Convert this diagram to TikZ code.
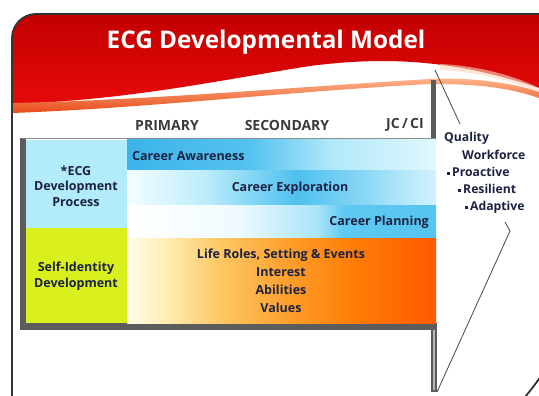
\documentclass[tikz,border=0pt]{standalone}
\usepackage{fontspec}
\setmainfont{Open Sans}
\definecolor{redTop}{HTML}{C20000}
\definecolor{redBot}{HTML}{E60A0A}
\definecolor{oranA}{HTML}{FFB890}
\definecolor{oranB}{HTML}{E84A18}
\definecolor{frameC}{HTML}{333333}
\definecolor{shadowC}{HTML}{5C5C5C}
\definecolor{cyanCell}{HTML}{B2EBFA}
\definecolor{limeCell}{HTML}{DAF01E}
\definecolor{txt}{HTML}{1C2242}
\definecolor{hdr}{HTML}{3A3A3A}
\definecolor{aA}{HTML}{3CB4EA}\definecolor{aB}{HTML}{55C2EF}\definecolor{aC}{HTML}{B0E8FA}\definecolor{aD}{HTML}{E2F8FD}
\definecolor{eA}{HTML}{F4FDFF}\definecolor{eB}{HTML}{BDEDFB}\definecolor{eC}{HTML}{4EC0EF}\definecolor{eD}{HTML}{86D5F5}\definecolor{eE}{HTML}{D3F3FD}
\definecolor{pA}{HTML}{FFFFFF}\definecolor{pB}{HTML}{F0FBFF}\definecolor{pC}{HTML}{A8E4F8}\definecolor{pD}{HTML}{5FC9F2}\definecolor{pE}{HTML}{55C4F0}
\definecolor{oA}{HTML}{FFFDE8}\definecolor{oB}{HTML}{FFEFB5}\definecolor{oC}{HTML}{FDC865}\definecolor{oD}{HTML}{FD9A25}\definecolor{oE}{HTML}{FF7A05}\definecolor{oF}{HTML}{FF5A00}
\pgfdeclarehorizontalshading{rowaware}{100bp}{color(0bp)=(aA); color(25bp)=(aA); color(45bp)=(aB); color(58bp)=(aC); color(75bp)=(aD); color(100bp)=(aD)}
\pgfdeclarehorizontalshading{rowexplore}{100bp}{color(0bp)=(eA); color(25bp)=(eA); color(37.5bp)=(eB); color(52.5bp)=(eC); color(62.5bp)=(eD); color(75bp)=(eE); color(100bp)=(eE)}
\pgfdeclarehorizontalshading{rowplan}{100bp}{color(0bp)=(pA); color(25bp)=(pA); color(42.5bp)=(pB); color(56bp)=(pC); color(60bp)=(pD); color(75bp)=(pE); color(100bp)=(pE)}
\pgfdeclarehorizontalshading{roworange}{100bp}{color(0bp)=(oA); color(25bp)=(oA); color(31bp)=(oB); color(40bp)=(oC); color(52.5bp)=(oD); color(62.5bp)=(oE); color(75bp)=(oF); color(100bp)=(oF)}
\tikzset{
  bodytxt/.style={text=txt, font=\bfseries\fontsize{12.5}{15.5}\selectfont, inner sep=0pt},
  hdrtxt/.style={text=hdr, font=\bfseries\fontsize{14}{16}\selectfont, inner sep=0pt},
  righttxt/.style={text=txt, font=\bfseries\fontsize{12.2}{14}\selectfont, inner sep=0pt, anchor=west},
  titletxt/.style={text=white, font=\bfseries\fontsize{24.3}{28}\selectfont, inner sep=0pt},
  shadowbar/.style={fill=shadowC},
  thinline/.style={draw=frameC!90, line width=0.8pt},
}
\newcommand{\sqbul}{\raisebox{0.25ex}{\rule{3pt}{3pt}}\hspace{2pt}}
\begin{document}
\begin{tikzpicture}[x=1pt,y=-1pt]
\useasboundingbox (0,0) rectangle (539,396);
\fill[white] (0,0) rectangle (539,396);
% red banner
\shade[top color=redTop, bottom color=redBot]
  (12,104) -- (12,38) .. controls (12,24.75) and (22.75,14) .. (36,14) -- (539,14) -- (539,88)
  .. controls (450,58) and (380,57) .. (310,66) .. controls (220,80) and (130,100) .. (12,104) -- cycle;
% orange swoosh band
\shade[top color=oranA, bottom color=oranB]
  (12,103) .. controls (150,100) and (280,88) .. (430,79) .. controls (480,77) and (520,85) .. (539,92)
  -- (539,98) .. controls (510,88) and (480,84) .. (430,84) .. controls (280,92) and (150,108) .. (12,113) -- cycle;
% light streak right
\fill[oranA!60, opacity=0.6]
  (440,64) .. controls (480,66) and (515,76) .. (539,88) -- (539,92) .. controls (515,82) and (480,72) .. (440,70) -- cycle;
% frame
\draw[frameC, line width=1.8pt] (12,398) -- (12,38) .. controls (12,24.75) and (22.75,14) .. (36,14) -- (541,14);
\node[titletxt] (title) at (266,42) {ECG Developmental Model};
% headers
\node[hdrtxt] (hPrimary) at (167,125) {PRIMARY};
\node[hdrtxt] (hSecondary) at (287,125) {SECONDARY};
\node[hdrtxt] (hJc) at (405,125) {JC\,/\,CI};
% panel shadow bars
\fill[shadowbar] (431,80) rectangle (436,140);
\fill[shadowbar] (20,138) rectangle (26,330);
\fill[shadowbar] (20,323) rectangle (437,330);
\fill[shadowbar] (431,323) rectangle (437,392);
\fill[shadowC!45] (433,330) rectangle (435,390);
% panel cells
\fill[cyanCell] (26,140) rectangle (127,228);
\fill[limeCell] (26,228) rectangle (127,323);
\shade[shading=rowaware] (127,140) rectangle (436,170);
\shade[shading=rowexplore] (127,170) rectangle (436,205);
\shade[shading=rowplan] (127,205) rectangle (436,238);
\shade[shading=roworange] (127,238) rectangle (436,323);
\draw[shadowC!70, line width=1pt] (22,139) -- (436,139);
% texts
\node[bodytxt, align=center] (ecg) at (76,186) {*ECG\\Development\\Process};
\node[bodytxt, align=center] (self) at (76,276) {Self-Identity\\Development};
\node[bodytxt, anchor=west] (aware) at (132,156) {Career Awareness};
\node[bodytxt] (explore) at (290,188) {Career Exploration};
\node[bodytxt, anchor=east] (plan) at (429,222) {Career Planning};
\node[bodytxt, align=center, font=\bfseries\fontsize{12.5}{18}\selectfont] (life) at (281,281) {Life Roles, Setting \& Events\\Interest\\Abilities\\Values};
% right texts
\node[righttxt] (quality) at (444,138) {Quality};
\node[righttxt] (workforce) at (462,155) {Workforce};
\node[righttxt] (proactive) at (447,172) {\sqbul Proactive};
\node[righttxt] (resilient) at (458,189) {\sqbul Resilient};
\node[righttxt] (adaptive) at (465,207) {\sqbul Adaptive};
% lines
\coordinate (wTop) at (435,70);
\coordinate (wQ) at (460,124);
\coordinate (bA) at (505,222);
\coordinate (bB) at (510,231);
\coordinate (bC) at (437,392);
\draw[thinline] (wTop) -- (wQ);
\draw[thinline] (bA) -- (bB) -- (bC);
\coordinate (cA) at (541,376);
\coordinate (cB) at (525,397);
\draw[frameC, line width=1.8pt] (cA) .. controls (534,386) .. (cB);
\end{tikzpicture}
\end{document}
